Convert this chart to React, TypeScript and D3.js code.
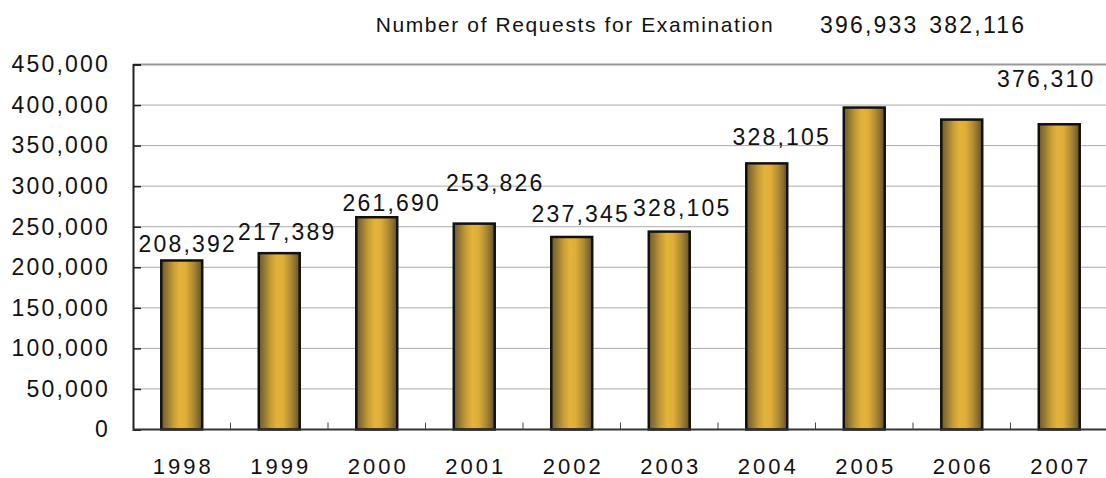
import React, { useEffect, useRef } from "react";
import * as d3 from "d3";

const years = ["1998", "1999", "2000", "2001", "2002", "2003", "2004", "2005", "2006", "2007"];
const requests = [208392, 217389, 261690, 253826, 237345, 244000, 328105, 396933, 382116, 376310];
const valueLabels = ["208,392", "217,389", "261,690", "253,826", "237,345", "328,105", "328,105", "396,933", "382,116", "376,310"];
const yTicks = [0, 50000, 100000, 150000, 200000, 250000, 300000, 350000, 400000, 450000];

// hand placed label offsets (px from bar top / bar centre), as in the original
const labelDx = [6, 8, 15, 21, 9, 13, 15, 5, 16, -13];
const labelDy = [-17, -21, -14, -41, -23, -24, -26, -83, -95, -45];

const W = 1106, H = 478;
const margin = { top: 64.5, right: -2, bottom: 48.5, left: 133 };
const numFont = "'Liberation Sans', Arial, sans-serif";

export default function App() {
  const ref = useRef<SVGSVGElement>(null);

  useEffect(() => {
    document.body.style.margin = "0";
    document.body.style.overflow = "hidden";
    const svg = d3.select(ref.current);
    svg.selectAll("*").remove();

    const x = d3.scaleBand<string>()
      .domain(years)
      .range([margin.left, W - margin.right])
      .paddingInner(0.58)
      .paddingOuter(0.29);
    const y = d3.scaleLinear().domain([0, 450000]).range([H - margin.bottom, margin.top]);

    const defs = svg.append("defs");
    const grad = defs.append("linearGradient").attr("id", "gold").attr("x1", "0%").attr("x2", "100%");
    [
      [0, "#6f5b2a"], [0.12, "#8e7432"], [0.3, "#c79d37"], [0.45, "#e3b33a"],
      [0.6, "#deae39"], [0.78, "#b08b34"], [0.92, "#7f682d"], [1, "#5e4e26"],
    ].forEach(([o, c]) => grad.append("stop").attr("offset", o as number).attr("stop-color", c as string));

    svg.append("text")
      .attr("x", 575).attr("y", 32)
      .attr("text-anchor", "middle")
      .attr("font-family", numFont)
      .attr("font-size", 21)
      .attr("letter-spacing", 1.6)
      .attr("fill", "#111")
      .text("Number of Requests for Examination");

    // gridlines
    svg.append("g").selectAll("line")
      .data(yTicks.filter(d => d > 0))
      .join("line")
      .attr("x1", margin.left).attr("x2", W)
      .attr("y1", d => y(d)).attr("y2", d => y(d))
      .attr("stroke", d => d === 450000 ? "#999" : "#aaa")
      .attr("stroke-width", d => d === 450000 ? 2 : 1);

    // y axis
    const yAxis = d3.axisLeft(y).tickValues(yTicks).tickSize(-8).tickPadding(23)
      .tickFormat(d => d3.format(",")(d as number));
    const yg = svg.append("g").attr("transform", `translate(${margin.left},0)`).call(yAxis);
    yg.select(".domain").attr("stroke", "#222").attr("stroke-width", 2);
    yg.selectAll(".tick line").attr("stroke", "#222").attr("stroke-width", 1.5);
    yg.selectAll("text")
      .attr("font-family", numFont).attr("font-size", 23).attr("letter-spacing", 2.2)
      .attr("fill", "#111");

    // bars
    svg.append("g").selectAll("rect")
      .data(requests)
      .join("rect")
      .attr("x", (d, i) => x(years[i])!)
      .attr("y", d => y(d))
      .attr("width", x.bandwidth())
      .attr("height", d => y(0) - y(d))
      .attr("fill", "url(#gold)")
      .attr("stroke", "#111")
      .attr("stroke-width", 2.5);

    // x axis
    const base = y(0);
    svg.append("line")
      .attr("x1", margin.left).attr("x2", W)
      .attr("y1", base).attr("y2", base)
      .attr("stroke", "#333").attr("stroke-width", 2);
    svg.append("g").selectAll("line")
      .data(years.slice(1))
      .join("line")
      .attr("x1", d => x(d)! - x.step() * x.paddingInner() / 2)
      .attr("x2", d => x(d)! - x.step() * x.paddingInner() / 2)
      .attr("y1", base).attr("y2", base - 7)
      .attr("stroke", "#444").attr("stroke-width", 1);
    svg.append("g").selectAll("text")
      .data(years)
      .join("text")
      .attr("x", d => x(d)! + x.bandwidth() / 2 + 1.5)
      .attr("y", 474)
      .attr("text-anchor", "middle")
      .attr("font-family", numFont).attr("font-size", 22).attr("letter-spacing", 3)
      .attr("fill", "#111")
      .text(d => d);

    // value labels
    svg.append("g").selectAll("text")
      .data(valueLabels)
      .join("text")
      .attr("x", (d, i) => x(years[i])! + x.bandwidth() / 2 + labelDx[i])
      .attr("y", (d, i) => y(requests[i]) + labelDy[i])
      .attr("dy", "0.35em")
      .attr("text-anchor", "middle")
      .attr("font-family", numFont).attr("font-size", 23).attr("letter-spacing", 2.2)
      .attr("fill", "#111")
      .text(d => d);
  }, []);

  return <svg ref={ref} width={W} height={H} style={{ display: "block", position: "absolute", left: 0, top: 0 }} />;
}
